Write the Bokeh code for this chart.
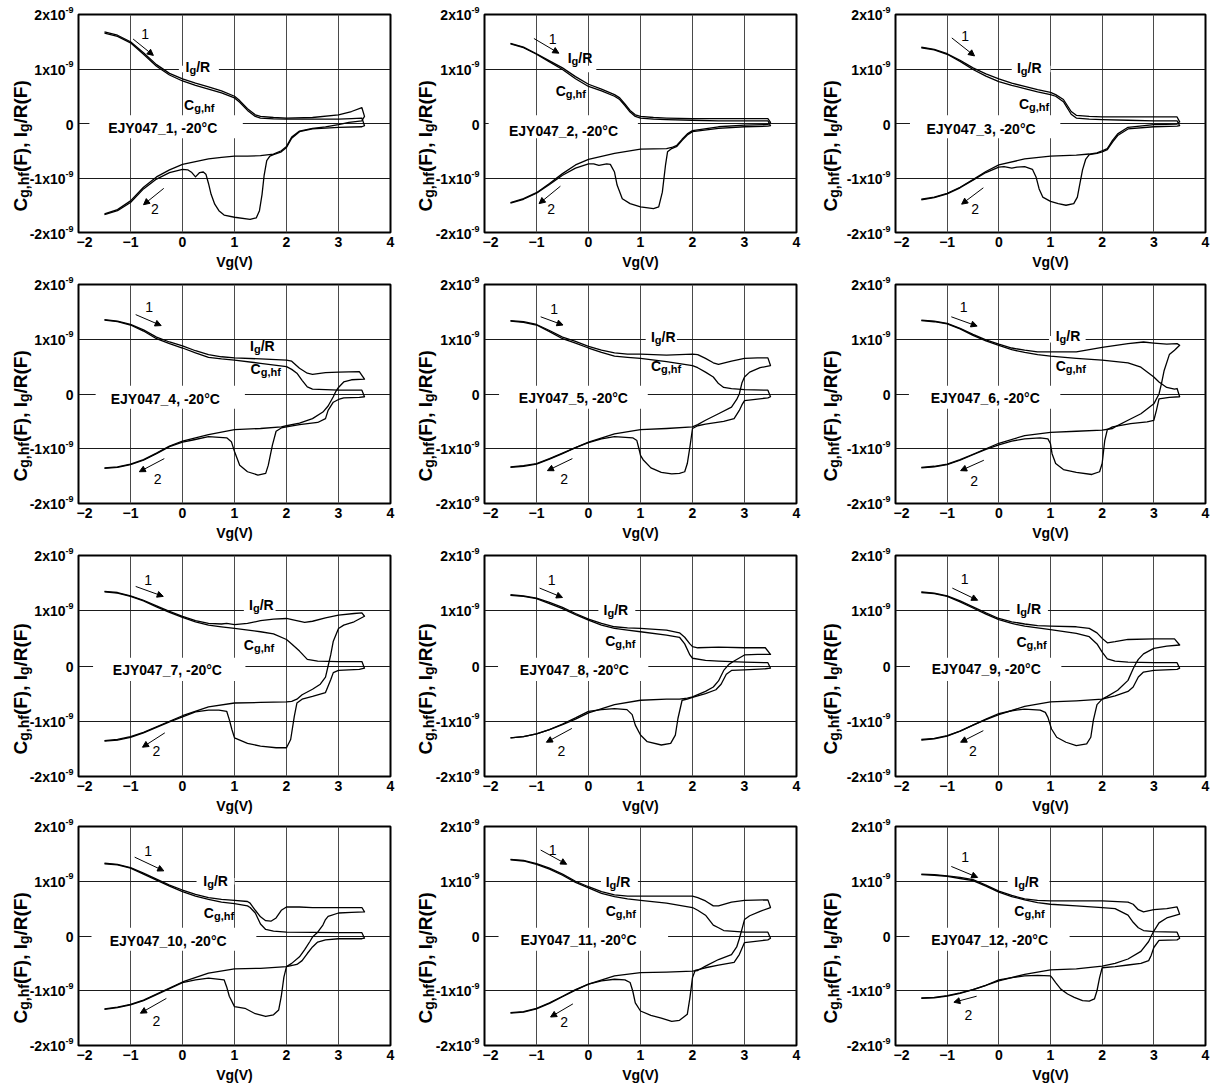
import math
from bokeh.plotting import figure
from bokeh.layouts import row, column
from bokeh.models import Label, Arrow, NormalHead, FixedTicker, Range1d, Grid
from bokeh.core.properties import value
from bokeh.embed import file_html
from bokeh.resources import INLINE

FONT = "Liberation Sans"

# ---------------- data (values in units of 1e-9 F, Vg in V) ----------------
X_TICKS = [-2, -1, 0, 1, 2, 3, 4]
Y_TICKS = [-2, -1, 0, 1, 2]
Y_TICK_MANT = ["-2x10", "-1x10", "0", "1x10", "2x10"]
Y_TICK_EXP = ["-9", "-9", "", "-9", "-9"]

SAMPLE_NAMES = ["EJY047_1, -20\u00b0C", "EJY047_2, -20\u00b0C", "EJY047_3, -20\u00b0C",
                "EJY047_4, -20\u00b0C", "EJY047_5, -20\u00b0C", "EJY047_6, -20\u00b0C",
                "EJY047_7, -20\u00b0C", "EJY047_8, -20\u00b0C", "EJY047_9, -20\u00b0C",
                "EJY047_10, -20\u00b0C", "EJY047_11, -20\u00b0C", "EJY047_12, -20\u00b0C"]

# Panel 1
IG1_F = [(-1.5,1.68),(-1.25,1.62),(-1.0,1.50),(-0.75,1.30),(-0.5,1.08),(-0.25,0.92),(0,0.82),(0.25,0.74),(0.5,0.67),(0.75,0.60),(1.0,0.50),(1.1,0.42),(1.25,0.27),(1.4,0.16),(1.5,0.13),(1.75,0.11),(2.0,0.10),(2.5,0.11),(3.0,0.16),(3.25,0.22),(3.45,0.29),(3.5,0.13)]
IG1_R = [(3.45,0.05),(3.2,0.02),(3.0,-0.02),(2.75,-0.06),(2.5,-0.09),(2.25,-0.14),(2.1,-0.25),(2.0,-0.42),(1.9,-0.5),(1.75,-0.56),(1.5,-0.59),(1.25,-0.6),(1.0,-0.6),(0.75,-0.62),(0.5,-0.65),(0.25,-0.7),(0,-0.75),(-0.25,-0.85),(-0.5,-0.98),(-0.75,-1.17),(-1.0,-1.42),(-1.25,-1.58),(-1.5,-1.66)]
CG1_F = [(-1.5,1.66),(-1.25,1.60),(-1.0,1.48),(-0.75,1.27),(-0.5,1.05),(-0.25,0.89),(0,0.78),(0.25,0.70),(0.5,0.63),(0.75,0.56),(1.0,0.47),(1.1,0.39),(1.25,0.24),(1.4,0.13),(1.5,0.10),(1.75,0.085),(2.0,0.08),(2.5,0.08),(3.0,0.08),(3.25,0.09),(3.45,0.10),(3.5,-0.04)]
CG1_R = [(3.45,-0.06),(3.0,-0.07),(2.5,-0.1),(2.25,-0.15),(2.1,-0.27),(2.0,-0.44),(1.9,-0.52),(1.75,-0.57),(1.68,-0.6),(1.62,-0.68),(1.57,-0.95),(1.53,-1.3),(1.48,-1.6),(1.42,-1.73),(1.3,-1.76),(1.0,-1.72),(0.8,-1.68),(0.7,-1.6),(0.62,-1.48),(0.55,-1.3),(0.5,-1.1),(0.45,-0.93),(0.4,-0.89),(0.33,-0.9),(0.25,-0.98),(0.18,-0.9),(0.1,-0.85),(0.0,-0.84),(-0.25,-0.9),(-0.5,-1.02),(-0.75,-1.2),(-1.0,-1.45),(-1.25,-1.6),(-1.5,-1.67)]

# Panel 2
IG2_F = [(-1.5,1.47),(-1.25,1.40),(-1.0,1.28),(-0.75,1.15),(-0.5,1.02),(-0.25,0.86),(0,0.72),(0.25,0.63),(0.5,0.53),(0.6,0.47),(0.7,0.36),(0.8,0.24),(0.9,0.16),(1.0,0.13),(1.25,0.11),(1.5,0.10),(2.0,0.09),(2.5,0.09),(3.0,0.09),(3.45,0.09),(3.5,0.02)]
IG2_R = [(3.45,-0.02),(3.0,-0.03),(2.5,-0.06),(2.0,-0.13),(1.9,-0.19),(1.8,-0.29),(1.7,-0.4),(1.6,-0.44),(1.5,-0.46),(1.0,-0.47),(0.5,-0.55),(0,-0.66),(-0.25,-0.76),(-0.5,-0.92),(-0.75,-1.1),(-1.0,-1.27),(-1.25,-1.38),(-1.5,-1.45)]
CG2_F = [(-1.5,1.46),(-1.25,1.39),(-1.0,1.27),(-0.75,1.13),(-0.5,0.99),(-0.25,0.82),(0,0.68),(0.25,0.60),(0.5,0.50),(0.6,0.44),(0.7,0.33),(0.8,0.21),(0.9,0.13),(1.0,0.10),(1.25,0.08),(1.5,0.07),(2.0,0.06),(2.5,0.05),(3.0,0.05),(3.45,0.05),(3.5,-0.04)]
CG2_R = [(3.45,-0.05),(3.0,-0.06),(2.5,-0.09),(2.0,-0.15),(1.9,-0.21),(1.8,-0.31),(1.7,-0.42),(1.6,-0.46),(1.52,-0.52),(1.48,-0.77),(1.42,-1.26),(1.35,-1.53),(1.25,-1.56),(1.0,-1.53),(0.8,-1.47),(0.65,-1.38),(0.55,-1.13),(0.5,-0.89),(0.42,-0.75),(0.35,-0.74),(0.2,-0.77),(0.1,-0.74),(0,-0.74),(-0.25,-0.82),(-0.5,-0.95),(-0.75,-1.12),(-1.0,-1.28),(-1.25,-1.39),(-1.5,-1.46)]

# Panel 3
IG3_F = [(-1.5,1.40),(-1.25,1.36),(-1.0,1.28),(-0.75,1.16),(-0.5,1.02),(-0.25,0.91),(0,0.82),(0.25,0.74),(0.5,0.68),(0.75,0.62),(1.0,0.57),(1.1,0.53),(1.25,0.44),(1.4,0.22),(1.5,0.15),(1.75,0.13),(2.0,0.12),(2.5,0.12),(3.0,0.12),(3.45,0.12),(3.5,0.03)]
IG3_R = [(3.45,-0.01),(3.0,-0.02),(2.5,-0.07),(2.3,-0.19),(2.2,-0.31),(2.1,-0.46),(2.0,-0.5),(1.9,-0.54),(1.75,-0.56),(1.5,-0.58),(1.0,-0.6),(0.5,-0.65),(0,-0.76),(-0.25,-0.88),(-0.5,-1.03),(-0.75,-1.17),(-1.0,-1.28),(-1.25,-1.35),(-1.5,-1.39)]
CG3_F = [(-1.5,1.39),(-1.25,1.35),(-1.0,1.27),(-0.75,1.14),(-0.5,0.99),(-0.25,0.87),(0,0.77),(0.25,0.70),(0.5,0.64),(0.75,0.58),(1.0,0.53),(1.1,0.50),(1.25,0.40),(1.4,0.17),(1.5,0.10),(1.75,0.08),(2.0,0.07),(2.5,0.06),(3.0,0.05),(3.45,0.05),(3.5,-0.04)]
CG3_R = [(3.45,-0.05),(3.0,-0.06),(2.5,-0.1),(2.3,-0.22),(2.2,-0.34),(2.1,-0.48),(2.0,-0.52),(1.9,-0.55),(1.75,-0.57),(1.68,-0.66),(1.62,-0.85),(1.57,-1.1),(1.52,-1.35),(1.45,-1.47),(1.3,-1.5),(1.15,-1.47),(1.0,-1.43),(0.85,-1.35),(0.78,-1.2),(0.72,-0.98),(0.65,-0.84),(0.5,-0.79),(0.35,-0.8),(0.25,-0.82),(0.1,-0.79),(0,-0.8),(-0.25,-0.9),(-0.5,-1.04),(-0.75,-1.18),(-1.0,-1.29),(-1.25,-1.36),(-1.5,-1.4)]

# Panel 4
IG4_F = [(-1.5,1.36),(-1.25,1.33),(-1.0,1.27),(-0.75,1.17),(-0.5,1.04),(-0.25,0.95),(0,0.88),(0.25,0.79),(0.5,0.72),(0.75,0.68),(1.0,0.66),(1.5,0.64),(2.0,0.62),(2.1,0.60),(2.25,0.47),(2.4,0.38),(2.5,0.36),(2.75,0.39),(3.0,0.40),(3.4,0.41),(3.5,0.27)]
IG4_R = [(3.25,0.26),(3.1,0.22),(3.0,0.12),(2.95,0.05),(2.9,-0.05),(2.8,-0.22),(2.7,-0.33),(2.5,-0.45),(2.25,-0.53),(2.0,-0.58),(1.9,-0.6),(1.5,-0.63),(1.0,-0.65),(0.5,-0.74),(0,-0.86),(-0.25,-0.95),(-0.5,-1.08),(-0.75,-1.2),(-1.0,-1.28),(-1.25,-1.33),(-1.5,-1.35)]
CG4_F = [(-1.5,1.35),(-1.25,1.32),(-1.0,1.26),(-0.75,1.15),(-0.5,1.01),(-0.25,0.92),(0,0.84),(0.25,0.75),(0.5,0.67),(0.75,0.64),(1.0,0.62),(1.5,0.56),(2.0,0.50),(2.1,0.45),(2.2,0.38),(2.3,0.25),(2.4,0.13),(2.5,0.09),(3.0,0.07),(3.45,0.07),(3.5,-0.05)]
CG4_R = [(3.4,-0.06),(3.1,-0.07),(3.0,-0.1),(2.9,-0.15),(2.8,-0.3),(2.75,-0.45),(2.6,-0.52),(2.25,-0.56),(2.0,-0.6),(1.9,-0.62),(1.8,-0.68),(1.73,-0.93),(1.65,-1.3),(1.6,-1.45),(1.45,-1.48),(1.25,-1.42),(1.1,-1.3),(1.0,-1.05),(0.94,-0.87),(0.85,-0.8),(0.5,-0.78),(0.2,-0.84),(0,-0.88),(-0.25,-0.96),(-0.5,-1.09),(-0.75,-1.21),(-1.0,-1.29),(-1.25,-1.34),(-1.5,-1.36)]

# Panel 5
IG5_F = [(-1.5,1.34),(-1.25,1.32),(-1.0,1.27),(-0.75,1.16),(-0.5,1.04),(-0.25,0.96),(0,0.87),(0.25,0.80),(0.5,0.75),(0.75,0.73),(1.0,0.73),(1.5,0.71),(2.0,0.73),(2.1,0.72),(2.25,0.65),(2.4,0.57),(2.5,0.54),(2.75,0.6),(3.0,0.65),(3.25,0.66),(3.45,0.66),(3.5,0.52)]
IG5_R = [(3.3,0.48),(3.1,0.4),(3.0,0.31),(2.95,0.2),(2.9,0.0),(2.85,-0.1),(2.75,-0.24),(2.5,-0.36),(2.25,-0.48),(2.1,-0.56),(2.0,-0.6),(1.5,-0.63),(1.0,-0.65),(0.5,-0.73),(0,-0.88),(-0.25,-0.98),(-0.5,-1.08),(-0.75,-1.18),(-1.0,-1.27),(-1.25,-1.31),(-1.5,-1.33)]
CG5_F = [(-1.5,1.33),(-1.25,1.31),(-1.0,1.26),(-0.75,1.14),(-0.5,1.01),(-0.25,0.93),(0,0.84),(0.25,0.76),(0.5,0.69),(0.75,0.67),(1.0,0.65),(1.5,0.59),(2.0,0.52),(2.1,0.48),(2.25,0.40),(2.4,0.31),(2.5,0.19),(2.6,0.12),(2.75,0.10),(3.0,0.08),(3.45,0.07),(3.5,-0.05)]
CG5_R = [(3.45,-0.07),(3.0,-0.12),(2.95,-0.2),(2.9,-0.3),(2.8,-0.45),(2.6,-0.5),(2.25,-0.55),(2.1,-0.58),(2.0,-0.63),(1.95,-0.97),(1.9,-1.27),(1.85,-1.42),(1.75,-1.45),(1.6,-1.46),(1.4,-1.43),(1.2,-1.35),(1.05,-1.2),(1.0,-1.12),(0.97,-1.0),(0.93,-0.85),(0.85,-0.8),(0.5,-0.78),(0.25,-0.82),(0,-0.89),(-0.25,-0.98),(-0.5,-1.09),(-0.75,-1.19),(-1.0,-1.28),(-1.25,-1.32),(-1.5,-1.34)]

# Panel 6
IG6_F = [(-1.5,1.35),(-1.25,1.33),(-1.0,1.29),(-0.75,1.2),(-0.5,1.09),(-0.25,0.99),(0,0.91),(0.25,0.84),(0.5,0.8),(0.75,0.77),(1.0,0.77),(1.5,0.77),(2.0,0.85),(2.5,0.92),(2.8,0.95),(3.0,0.93),(3.25,0.91),(3.45,0.92),(3.5,0.89)]
IG6_R = [(3.4,0.8),(3.3,0.72),(3.2,0.43),(3.15,0.2),(3.1,0.0),(3.0,-0.18),(2.75,-0.36),(2.5,-0.48),(2.25,-0.6),(2.2,-0.63),(2.0,-0.66),(1.5,-0.68),(1.0,-0.7),(0.5,-0.76),(0,-0.9),(-0.25,-1.0),(-0.5,-1.1),(-0.75,-1.2),(-1.0,-1.28),(-1.25,-1.32),(-1.5,-1.34)]
CG6_F = [(-1.5,1.34),(-1.25,1.32),(-1.0,1.28),(-0.75,1.19),(-0.5,1.07),(-0.25,0.97),(0,0.89),(0.25,0.81),(0.5,0.76),(0.75,0.72),(1.0,0.69),(1.5,0.65),(2.0,0.62),(2.5,0.57),(2.75,0.49),(3.0,0.31),(3.1,0.22),(3.25,0.12),(3.4,0.09),(3.45,0.1),(3.5,-0.05)]
CG6_R = [(3.3,-0.06),(3.1,-0.09),(3.05,-0.3),(3.0,-0.48),(2.87,-0.51),(2.55,-0.54),(2.2,-0.6),(2.1,-0.65),(2.05,-0.85),(2.0,-1.27),(1.95,-1.42),(1.8,-1.47),(1.5,-1.43),(1.25,-1.38),(1.1,-1.27),(1.03,-1.09),(1.0,-0.91),(0.95,-0.82),(0.8,-0.8),(0.5,-0.82),(0.25,-0.86),(0,-0.93),(-0.25,-1.01),(-0.5,-1.11),(-0.75,-1.21),(-1.0,-1.29),(-1.25,-1.33),(-1.5,-1.35)]

# Panel 7
IG7_F = [(-1.5,1.35),(-1.25,1.33),(-1.0,1.27),(-0.75,1.19),(-0.5,1.09),(-0.25,0.99),(0,0.9),(0.25,0.82),(0.5,0.77),(0.75,0.76),(0.85,0.77),(1.0,0.75),(1.25,0.77),(1.5,0.82),(1.75,0.85),(2.0,0.86),(2.15,0.83),(2.35,0.79),(2.5,0.81),(2.75,0.87),(3.0,0.92),(3.3,0.95),(3.45,0.96),(3.5,0.9)]
IG7_R = [(3.3,0.8),(3.1,0.74),(3.0,0.68),(2.9,0.45),(2.85,0.2),(2.8,0.0),(2.75,-0.2),(2.65,-0.33),(2.5,-0.42),(2.3,-0.52),(2.2,-0.6),(2.1,-0.64),(2.0,-0.65),(1.5,-0.66),(1.0,-0.67),(0.5,-0.74),(0,-0.9),(-0.25,-1.0),(-0.5,-1.1),(-0.75,-1.2),(-1.0,-1.28),(-1.25,-1.33),(-1.5,-1.35)]
CG7_F = [(-1.5,1.34),(-1.25,1.32),(-1.0,1.26),(-0.75,1.18),(-0.5,1.07),(-0.25,0.97),(0,0.88),(0.25,0.8),(0.5,0.74),(0.75,0.71),(1.0,0.68),(1.5,0.62),(1.75,0.58),(2.0,0.48),(2.1,0.4),(2.25,0.27),(2.4,0.12),(2.6,0.09),(3.0,0.08),(3.45,0.08),(3.5,-0.04)]
CG7_R = [(3.4,-0.06),(3.0,-0.08),(2.9,-0.12),(2.85,-0.25),(2.75,-0.48),(2.5,-0.55),(2.3,-0.6),(2.2,-0.67),(2.15,-0.91),(2.08,-1.33),(2.0,-1.48),(1.8,-1.48),(1.5,-1.45),(1.25,-1.4),(1.0,-1.3),(0.95,-1.15),(0.9,-0.97),(0.85,-0.82),(0.7,-0.8),(0.5,-0.8),(0.25,-0.83),(0,-0.92),(-0.25,-1.01),(-0.5,-1.11),(-0.75,-1.21),(-1.0,-1.29),(-1.25,-1.34),(-1.5,-1.36)]

# Panel 8
IG8_F = [(-1.5,1.29),(-1.25,1.27),(-1.0,1.23),(-0.75,1.15),(-0.5,1.06),(-0.25,0.95),(0,0.85),(0.25,0.77),(0.5,0.71),(0.75,0.69),(1.0,0.68),(1.5,0.65),(1.75,0.6),(1.85,0.52),(1.95,0.4),(2.0,0.35),(2.1,0.33),(2.5,0.34),(3.0,0.33),(3.4,0.33),(3.5,0.21)]
IG8_R = [(3.25,0.21),(3.0,0.2),(2.8,0.09),(2.7,0.03),(2.6,-0.08),(2.5,-0.27),(2.4,-0.38),(2.25,-0.46),(2.0,-0.56),(1.9,-0.58),(1.75,-0.6),(1.5,-0.6),(1.0,-0.62),(0.5,-0.7),(0,-0.85),(-0.25,-0.96),(-0.5,-1.06),(-0.75,-1.15),(-1.0,-1.23),(-1.25,-1.28),(-1.5,-1.3)]
CG8_F = [(-1.5,1.28),(-1.25,1.26),(-1.0,1.22),(-0.75,1.13),(-0.5,1.04),(-0.25,0.93),(0,0.83),(0.25,0.74),(0.5,0.68),(0.75,0.65),(1.0,0.62),(1.5,0.56),(1.75,0.52),(1.85,0.4),(1.95,0.2),(2.0,0.14),(2.25,0.1),(2.5,0.09),(3.0,0.07),(3.45,0.06),(3.5,-0.04)]
CG8_R = [(3.4,-0.05),(3.0,-0.07),(2.75,-0.08),(2.65,-0.15),(2.55,-0.33),(2.45,-0.43),(2.25,-0.5),(2.0,-0.57),(1.9,-0.6),(1.8,-0.62),(1.72,-0.95),(1.67,-1.25),(1.58,-1.4),(1.4,-1.43),(1.13,-1.37),(1.0,-1.25),(0.9,-1.07),(0.84,-0.88),(0.74,-0.79),(0.5,-0.77),(0.25,-0.79),(0,-0.82),(-0.25,-0.94),(-0.5,-1.05),(-0.75,-1.15),(-1.0,-1.23),(-1.25,-1.28),(-1.5,-1.3)]

# Panel 9
IG9_F = [(-1.5,1.34),(-1.25,1.32),(-1.0,1.27),(-0.75,1.18),(-0.5,1.07),(-0.25,0.96),(0,0.86),(0.25,0.8),(0.5,0.76),(0.75,0.73),(1.0,0.72),(1.5,0.71),(1.75,0.68),(1.9,0.6),(2.0,0.5),(2.1,0.42),(2.25,0.44),(2.5,0.48),(3.0,0.49),(3.4,0.49),(3.5,0.38)]
IG9_R = [(3.25,0.36),(3.0,0.32),(2.8,0.22),(2.7,0.12),(2.65,0.04),(2.6,-0.05),(2.5,-0.26),(2.3,-0.44),(2.1,-0.55),(2.0,-0.6),(1.5,-0.63),(1.0,-0.65),(0.5,-0.73),(0,-0.88),(-0.25,-0.97),(-0.5,-1.07),(-0.75,-1.18),(-1.0,-1.26),(-1.25,-1.31),(-1.5,-1.33)]
CG9_F = [(-1.5,1.33),(-1.25,1.31),(-1.0,1.26),(-0.75,1.16),(-0.5,1.05),(-0.25,0.94),(0,0.84),(0.25,0.77),(0.5,0.72),(0.75,0.69),(1.0,0.66),(1.5,0.59),(1.75,0.53),(1.9,0.4),(2.0,0.25),(2.1,0.13),(2.25,0.09),(2.5,0.07),(3.0,0.06),(3.45,0.06),(3.5,-0.04)]
CG9_R = [(3.45,-0.06),(3.0,-0.08),(2.8,-0.11),(2.7,-0.2),(2.6,-0.38),(2.5,-0.46),(2.25,-0.54),(2.0,-0.6),(1.9,-0.7),(1.83,-0.98),(1.78,-1.29),(1.7,-1.41),(1.5,-1.44),(1.3,-1.38),(1.12,-1.29),(1.02,-1.14),(0.95,-0.93),(0.9,-0.84),(0.8,-0.8),(0.5,-0.78),(0.25,-0.81),(0,-0.86),(-0.25,-0.96),(-0.5,-1.07),(-0.75,-1.18),(-1.0,-1.27),(-1.25,-1.32),(-1.5,-1.34)]

# Panel 10
IG10_F = [(-1.5,1.33),(-1.25,1.31),(-1.0,1.25),(-0.75,1.15),(-0.5,1.04),(-0.25,0.93),(0,0.84),(0.25,0.76),(0.5,0.7),(0.75,0.67),(1.0,0.65),(1.25,0.63),(1.3,0.6),(1.4,0.47),(1.5,0.35),(1.6,0.28),(1.7,0.27),(1.8,0.33),(1.9,0.47),(2.0,0.53),(2.25,0.53),(2.5,0.52),(3.0,0.52),(3.45,0.52),(3.5,0.44)]
IG10_R = [(3.25,0.43),(3.0,0.42),(2.8,0.36),(2.75,0.3),(2.7,0.2),(2.6,0.07),(2.5,-0.02),(2.45,-0.1),(2.35,-0.25),(2.25,-0.38),(2.1,-0.5),(2.0,-0.56),(1.5,-0.59),(1.0,-0.6),(0.5,-0.68),(0,-0.84),(-0.25,-0.95),(-0.5,-1.06),(-0.75,-1.17),(-1.0,-1.25),(-1.25,-1.3),(-1.5,-1.33)]
CG10_F = [(-1.5,1.32),(-1.25,1.3),(-1.0,1.24),(-0.75,1.13),(-0.5,1.02),(-0.25,0.91),(0,0.81),(0.25,0.73),(0.5,0.67),(0.75,0.62),(1.0,0.59),(1.25,0.55),(1.3,0.52),(1.4,0.42),(1.5,0.22),(1.6,0.12),(1.75,0.09),(2.0,0.07),(3.0,0.06),(3.45,0.06),(3.5,-0.04)]
CG10_R = [(3.45,-0.05),(3.0,-0.05),(2.75,-0.07),(2.6,-0.11),(2.5,-0.2),(2.4,-0.32),(2.3,-0.45),(2.2,-0.52),(2.0,-0.56),(1.95,-0.75),(1.9,-1.1),(1.85,-1.35),(1.75,-1.44),(1.6,-1.47),(1.4,-1.42),(1.2,-1.32),(1.0,-1.29),(0.9,-1.1),(0.85,-0.93),(0.8,-0.8),(0.5,-0.77),(0.25,-0.8),(0,-0.85),(-0.25,-0.96),(-0.5,-1.07),(-0.75,-1.18),(-1.0,-1.26),(-1.25,-1.31),(-1.5,-1.34)]

# Panel 11
IG11_F = [(-1.5,1.4),(-1.25,1.38),(-1.0,1.32),(-0.75,1.24),(-0.5,1.13),(-0.25,1.0),(0,0.9),(0.25,0.81),(0.5,0.75),(0.75,0.73),(1.0,0.73),(1.5,0.73),(2.0,0.73),(2.1,0.7),(2.25,0.64),(2.4,0.55),(2.5,0.55),(2.75,0.62),(3.0,0.65),(3.45,0.66),(3.5,0.52)]
IG11_R = [(3.3,0.45),(3.1,0.37),(3.0,0.3),(2.95,0.12),(2.9,-0.05),(2.85,-0.2),(2.75,-0.34),(2.5,-0.43),(2.25,-0.55),(2.1,-0.63),(2.0,-0.64),(1.5,-0.66),(1.0,-0.67),(0.5,-0.73),(0,-0.88),(-0.25,-0.98),(-0.5,-1.1),(-0.75,-1.22),(-1.0,-1.32),(-1.25,-1.38),(-1.5,-1.4)]
CG11_F = [(-1.5,1.39),(-1.25,1.37),(-1.0,1.31),(-0.75,1.22),(-0.5,1.11),(-0.25,0.98),(0,0.88),(0.25,0.78),(0.5,0.72),(0.75,0.68),(1.0,0.65),(1.5,0.6),(2.0,0.52),(2.1,0.47),(2.25,0.38),(2.4,0.2),(2.5,0.15),(2.6,0.1),(3.0,0.07),(3.45,0.07),(3.5,-0.04)]
CG11_R = [(3.45,-0.07),(3.0,-0.12),(2.9,-0.34),(2.8,-0.48),(2.5,-0.53),(2.25,-0.58),(2.05,-0.63),(2.0,-0.76),(1.95,-1.13),(1.9,-1.43),(1.75,-1.54),(1.6,-1.56),(1.4,-1.5),(1.2,-1.45),(1.0,-1.37),(0.9,-1.22),(0.85,-1.0),(0.8,-0.85),(0.7,-0.8),(0.5,-0.79),(0.25,-0.82),(0,-0.88),(-0.25,-0.99),(-0.5,-1.11),(-0.75,-1.23),(-1.0,-1.33),(-1.25,-1.39),(-1.5,-1.41)]

# Panel 12
IG12_F = [(-1.5,1.13),(-1.25,1.12),(-1.0,1.1),(-0.75,1.07),(-0.5,1.03),(-0.25,0.93),(0,0.82),(0.25,0.74),(0.5,0.68),(0.75,0.65),(1.0,0.64),(1.5,0.64),(2.0,0.64),(2.5,0.62),(2.6,0.58),(2.7,0.48),(2.8,0.44),(3.0,0.48),(3.25,0.5),(3.45,0.53),(3.5,0.4)]
IG12_R = [(3.25,0.33),(3.1,0.24),(3.0,0.09),(2.95,0.0),(2.9,-0.1),(2.75,-0.28),(2.5,-0.42),(2.25,-0.5),(2.0,-0.55),(1.5,-0.6),(1.0,-0.62),(0.5,-0.7),(0,-0.82),(-0.25,-0.9),(-0.5,-0.98),(-0.75,-1.04),(-1.0,-1.09),(-1.25,-1.12),(-1.5,-1.13)]
CG12_F = [(-1.5,1.12),(-1.25,1.11),(-1.0,1.09),(-0.75,1.05),(-0.5,1.01),(-0.25,0.91),(0,0.8),(0.25,0.72),(0.5,0.66),(0.75,0.61),(1.0,0.58),(1.5,0.55),(2.0,0.52),(2.25,0.5),(2.5,0.38),(2.6,0.25),(2.7,0.15),(2.8,0.1),(3.0,0.08),(3.45,0.07),(3.5,-0.04)]
CG12_R = [(3.45,-0.07),(3.1,-0.08),(3.0,-0.21),(2.95,-0.35),(2.9,-0.45),(2.75,-0.5),(2.5,-0.53),(2.25,-0.56),(2.0,-0.58),(1.95,-0.76),(1.9,-1.0),(1.85,-1.15),(1.75,-1.19),(1.62,-1.18),(1.46,-1.12),(1.33,-1.06),(1.2,-0.97),(1.1,-0.85),(1.03,-0.76),(1.0,-0.73),(0.75,-0.72),(0.5,-0.73),(0.25,-0.76),(0,-0.8),(-0.25,-0.9),(-0.5,-0.98),(-0.75,-1.05),(-1.0,-1.1),(-1.25,-1.13),(-1.5,-1.14)]

PANEL_CURVES = [
    (IG1_F, IG1_R, CG1_F, CG1_R), (IG2_F, IG2_R, CG2_F, CG2_R), (IG3_F, IG3_R, CG3_F, CG3_R),
    (IG4_F, IG4_R, CG4_F, CG4_R), (IG5_F, IG5_R, CG5_F, CG5_R), (IG6_F, IG6_R, CG6_F, CG6_R),
    (IG7_F, IG7_R, CG7_F, CG7_R), (IG8_F, IG8_R, CG8_F, CG8_R), (IG9_F, IG9_R, CG9_F, CG9_R),
    (IG10_F, IG10_R, CG10_F, CG10_R), (IG11_F, IG11_R, CG11_F, CG11_R), (IG12_F, IG12_R, CG12_F, CG12_R),
]

# ---------------- annotation placement (layout only) ----------------
ONE_POS = [(-0.72,1.65),(-0.69,1.55),(-0.65,1.61),(-0.64,1.59),(-0.66,1.56),(-0.68,1.59),(-0.66,1.56),(-0.71,1.56),(-0.66,1.57),(-0.66,1.56),(-0.69,1.57),(-0.65,1.45)]
ONE_ARROW = [(-0.95,1.55,-0.56,1.25),(-1.05,1.56,-0.57,1.29),(-0.91,1.57,-0.47,1.24),(-0.9,1.45,-0.41,1.25),(-0.92,1.41,-0.49,1.26),(-0.92,1.41,-0.42,1.24),(-0.9,1.44,-0.37,1.26),(-0.94,1.41,-0.5,1.24),(-0.9,1.41,-0.41,1.19),(-0.92,1.44,-0.36,1.19),(-0.92,1.57,-0.42,1.31),(-0.92,1.27,-0.41,1.07)]
TWO_POS = [(-0.53,-1.57),(-0.72,-1.56),(-0.46,-1.56),(-0.48,-1.56),(-0.47,-1.55),(-0.48,-1.58),(-0.5,-1.53),(-0.52,-1.53),(-0.5,-1.53),(-0.5,-1.55),(-0.47,-1.57),(-0.59,-1.45)]
TWO_ARROW = [(-0.36,-1.19,-0.75,-1.49),(-0.54,-1.15,-0.95,-1.47),(-0.3,-1.18,-0.72,-1.48),(-0.35,-1.18,-0.83,-1.42),(-0.31,-1.18,-0.79,-1.4),(-0.29,-1.21,-0.74,-1.4),(-0.34,-1.21,-0.77,-1.47),(-0.32,-1.13,-0.81,-1.38),(-0.3,-1.17,-0.74,-1.38),(-0.31,-1.14,-0.81,-1.41),(-0.3,-1.24,-0.73,-1.48),(-0.43,-1.1,-0.87,-1.21)]
IG_POS = [(0.06,0.95),(-0.4,1.12),(0.35,0.94),(1.3,0.8),(1.2,0.95),(1.1,0.98),(1.28,1.03),(0.29,0.94),(0.34,0.95),(0.4,0.92),(0.33,0.91),(0.3,0.91)]
IG_BOX = [(-0.07,0.7),(-0.5,0.15),(0.25,1.0),None,(1.1,1.7),(0.97,1.68),(1.18,1.79),(0.19,0.9),(0.21,0.95),(0.27,1.0),(0.24,0.95),(0.17,0.98)]
CG_POS = [(0.03,0.25),(-0.63,0.52),(0.39,0.28),(1.31,0.38),(1.2,0.43),(1.1,0.43),(1.18,0.3),(0.32,0.37),(0.34,0.36),(0.41,0.33),(0.33,0.37),(0.3,0.37)]
NAME_POS = [(-1.43,-0.17),(-1.53,-0.22),(-1.4,-0.18),(-1.38,-0.17),(-1.34,-0.15),(-1.32,-0.15),(-1.34,-0.15),(-1.32,-0.15),(-1.3,-0.14),(-1.4,-0.17),(-1.31,-0.15),(-1.31,-0.15)]
NAME_BOX = [(-1.79,1.16),(-1.92,0.95),(-1.72,1.19),(-1.67,1.2),(-1.72,1.14),(-1.74,1.19),(-1.72,1.21),(-1.74,1.15),(-1.72,1.21),(-1.75,1.42),(-1.73,1.53),(-1.73,1.37)]

# cell geometry: (cell width, frame left inside cell, frame right border)
COLS = [(404, 78, 14), (404, 80, 12), (402, 87, 5)]
ROWS = [(272, 14, 39), (272, 12, 41), (272, 11, 40), (272, 10, 43)]
YLABEL_X = [24, 25, 26]   # baseline of rotated y label inside each cell (px)
YLABEL_START = 22         # px above frame bottom where the y label begins
GAP = 2                   # border left of the frame inside the plot figure
FIX = 4.5                 # px correction for alphabetic-baseline text placement

AW = {'C': 722, 'g': 611, ',': 278, 'h': 611, 'f': 333, '(': 333, 'F': 611, ')': 333,
      ' ': 278, 'I': 278, '/': 278, 'R': 722, '-': 333, 'x': 556}


def tw(s, size):
    return sum(AW.get(ch, 556) for ch in s) * size / 1000.0


YLAB_SEGS = [("C", 19, 0), ("g,hf", 14, -4), ("(F), I", 19, 0), ("g", 14, -4), ("/R(F)", 19, 0)]
IG_SEGS = [("I", 14, 0), ("g", 11, -3), ("/R", 14, 0)]
CG_SEGS = [("C", 14, 0), ("g,hf", 11, -3)]


def split(pts):
    return [a for a, b in pts], [b for a, b in pts]


def no_align(fig):
    try:
        fig.frame_align = False
    except Exception:
        pass


def rich_label(p, x, y, segs):
    off = 0.0
    for text, size, dy in segs:
        p.add_layout(Label(x=x, y=y, x_offset=off, y_offset=dy + FIX, text=text,
                           text_font=FONT, text_font_size=f"{size}px", text_font_style="bold",
                           text_color="black", text_align="left", text_baseline="alphabetic"))
        off += tw(text, size)


def make_side(k):
    """Narrow figure left of each panel holding the y tick labels and the rotated y label."""
    r, c = divmod(k, 3)
    w, bl, br = COLS[c]
    h, bt, bb = ROWS[r]
    L = bl - GAP
    pxy = (h - bt - bb) / 4.0
    s = figure(width=L, height=h, x_range=Range1d(0, L),
               y_range=Range1d(-2 - bb / pxy, 2 + bt / pxy),
               output_backend="svg", toolbar_location=None,
               x_axis_location=None, y_axis_location=None,
               min_border_left=0, min_border_right=0, min_border_top=0, min_border_bottom=0)
    no_align(s)
    s.outline_line_color = None
    s.background_fill_color = "white"
    s.border_fill_color = "white"
    s.xgrid.visible = False
    s.ygrid.visible = False

    # y tick labels: mantissa + small raised exponent, right edge 5 px left of the frame
    right = L + GAP - 5
    sup = 9
    mx, my, mt, ex, ey, et = [], [], [], [], [], []
    for t, m, e in zip(Y_TICKS, Y_TICK_MANT, Y_TICK_EXP):
        ew = tw(e, sup) if e else 0.0
        mx.append(right - ew)
        my.append(t + (FIX - 5.0) / pxy)
        mt.append(m)
        if e:
            ex.append(right - ew)
            ey.append(t + (FIX + 0.5) / pxy)
            et.append(e)
    s.text(x=mx, y=my, text=mt, text_font=value(FONT), text_font_size="14px",
           text_font_style="bold", text_color="black", text_align="right", text_baseline="alphabetic")
    s.text(x=ex, y=ey, text=et, text_font=value(FONT), text_font_size=f"{sup}px",
           text_font_style="bold", text_color="black", text_align="left", text_baseline="alphabetic")

    # rotated y-axis label with subscripts
    pos = YLABEL_START
    for text, size, dy in YLAB_SEGS:
        s.text(x=[YLABEL_X[c] - dy - FIX], y=[-2 + pos / pxy], text=[text], angle=math.pi / 2,
               text_font=value(FONT), text_font_size=f"{size}px", text_font_style="bold",
               text_color="black", text_align="left", text_baseline="alphabetic")
        pos += tw(text, size)
    return s


def make_panel(k):
    r, c = divmod(k, 3)
    w, bl, br = COLS[c]
    h, bt, bb = ROWS[r]
    L = bl - GAP
    p = figure(width=w - L, height=h, x_range=Range1d(-2, 4), y_range=Range1d(-2, 2),
               output_backend="svg", toolbar_location=None, y_axis_location=None,
               min_border_left=GAP, min_border_right=br, min_border_top=bt, min_border_bottom=bb)
    no_align(p)
    p.background_fill_color = "white"
    p.border_fill_color = "white"
    p.outline_line_color = "black"
    p.outline_line_width = 2

    p.xaxis.ticker = FixedTicker(ticks=X_TICKS)
    p.xgrid.ticker = FixedTicker(ticks=X_TICKS)
    if len(p.ygrid) == 0:
        p.add_layout(Grid(dimension=1, ticker=FixedTicker(ticks=Y_TICKS)))
    else:
        p.ygrid.ticker = FixedTicker(ticks=Y_TICKS)
    ax = p.xaxis[0]
    ax.axis_line_color = None
    ax.major_tick_line_color = None
    ax.minor_tick_line_color = None
    ax.major_tick_in = 0
    ax.major_tick_out = 0
    ax.minor_tick_in = 0
    ax.minor_tick_out = 0
    ax.major_label_text_font = FONT
    ax.major_label_text_font_style = "bold"
    ax.major_label_text_font_size = "14px"
    ax.major_label_text_color = "black"
    ax.major_label_standoff = 4
    ax.axis_label = "Vg(V)"
    ax.axis_label_text_font = FONT
    ax.axis_label_text_font_style = "bold"
    ax.axis_label_text_font_size = "14px"
    ax.axis_label_text_color = "black"
    ax.axis_label_standoff = 4
    p.xgrid.grid_line_color = "#4a4a4a"
    p.ygrid.grid_line_color = "#1a1a1a"
    p.xgrid.grid_line_width = 1
    p.ygrid.grid_line_width = 1

    # white boxes behind texts (they interrupt grid lines)
    nb = NAME_BOX[k]
    p.quad(left=[nb[0]], right=[nb[1]], bottom=[-0.27], top=[0.15], fill_color="white", line_color=None)
    if IG_BOX[k] is not None:
        ib = IG_BOX[k]
        p.quad(left=[ib[0]], right=[ib[1]], bottom=[0.94], top=[1.06], fill_color="white", line_color=None)

    igf, igr, cgf, cgr = PANEL_CURVES[k]
    ix, iy = split(igf + igr)
    cx, cy = split(cgf + cgr)
    p.line(ix, iy, line_color="black", line_width=1.3, line_join="round")
    p.line(cx, cy, line_color="black", line_width=1.3, line_join="round")

    # sweep direction markers
    ox, oy = ONE_POS[k]
    p.add_layout(Label(x=ox, y=oy, text="1", text_font=FONT, text_font_size="14px",
                       text_align="center", text_baseline="middle", text_color="black"))
    a = ONE_ARROW[k]
    p.add_layout(Arrow(end=NormalHead(size=6, fill_color="black", line_color="black", line_width=1),
                       x_start=a[0], y_start=a[1], x_end=a[2], y_end=a[3], line_width=1, line_color="black"))
    tx, ty = TWO_POS[k]
    p.add_layout(Label(x=tx, y=ty, text="2", text_font=FONT, text_font_size="14px",
                       text_align="center", text_baseline="middle", text_color="black"))
    a = TWO_ARROW[k]
    p.add_layout(Arrow(end=NormalHead(size=6, fill_color="black", line_color="black", line_width=1),
                       x_start=a[0], y_start=a[1], x_end=a[2], y_end=a[3], line_width=1, line_color="black"))

    # curve labels
    rich_label(p, IG_POS[k][0], IG_POS[k][1], IG_SEGS)
    rich_label(p, CG_POS[k][0], CG_POS[k][1], CG_SEGS)

    # sample name
    nx, ny = NAME_POS[k]
    p.add_layout(Label(x=nx, y=ny, y_offset=FIX, text=SAMPLE_NAMES[k], text_font=FONT,
                       text_font_size="14px", text_font_style="bold", text_color="black",
                       text_align="left", text_baseline="alphabetic"))
    return p


rows_ = []
for r in range(4):
    items = []
    for c in range(3):
        k = r * 3 + c
        items.append(make_side(k))
        items.append(make_panel(k))
    rows_.append(row(*items))
layout = column(*rows_)

open("out.html", "w").write(file_html(layout, INLINE))
